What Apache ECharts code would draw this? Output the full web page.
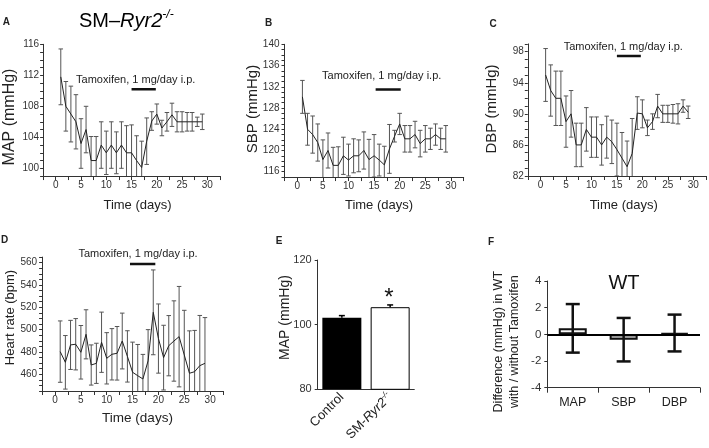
<!DOCTYPE html>
<html><head><meta charset="utf-8">
<script src="https://cdn.jsdelivr.net/npm/echarts@6/dist/echarts.min.js"></script>
<style>html,body{margin:0;padding:0;background:#fff}#c{width:709px;height:448px}</style>
</head><body><div id="c"></div>
<script>
// ---------- data ----------
const days = [1,2,3,4,5,6,7,8,9,10,11,12,13,14,15,16,17,18,19,20,21,22,23,24,25,26,27,28,29];
const mapMean = [111.8,108.0,107.0,106.0,103.2,105.0,101.0,101.0,103.0,102.0,103.0,102.0,103.0,102.0,102.0,101.0,100.1,103.5,106.1,107.0,105.2,106.0,106.9,106.0,106.0,106.0,106.0,106.0,106.0];
const mapErr  = [3.6,3.2,3.6,3.5,3.2,3.0,3.1,3.1,3.0,2.8,3.0,2.7,3.0,3.5,3.6,3.2,3.4,3.0,1.2,1.3,1.0,1.2,1.5,1.3,1.3,1.2,1.2,0.6,1.0];
const sbpMean = [130.1,124.0,123.0,121.5,118.3,120.0,117.2,117.2,119.0,118.2,119.0,119.0,120.0,118.3,119.0,118.2,117.3,120.3,122.7,125.0,122.2,122.2,123.0,121.3,122.2,122.2,123.0,122.2,122.2];
const sbpErr  = [3.1,3.0,3.5,3.5,3.7,3.3,3.4,3.5,3.5,3.0,3.2,3.0,3.5,3.8,4.0,3.0,3.5,4.6,1.1,2.0,2.5,2.5,2.5,2.5,2.5,2.0,2.0,2.0,2.5];
const dbpMean = [95.0,93.0,92.0,92.0,89.0,90.0,86.0,86.0,88.0,87.0,87.0,86.0,87.0,86.4,85.4,84.3,83.2,84.9,90.1,90.0,88.2,89.0,91.0,90.0,90.0,90.0,90.0,91.0,90.2];
const dbpErr  = [3.4,3.3,3.5,3.5,3.3,3.0,2.8,2.8,2.8,2.6,2.6,2.6,2.7,2.8,3.4,3.3,3.3,4.5,2.1,1.8,1.0,1.0,1.5,1.1,1.1,1.2,1.3,0.8,0.8];
const hrMean  = [480.3,470.7,486.3,486.9,479.7,495.8,468.3,469.8,488.7,474.3,477.9,478.8,489.8,476.0,461.8,458.7,455.8,472.0,515.5,492.0,474.9,485.6,489.8,493.7,477.3,460.9,462.3,467.7,469.8];
const hrErr   = [27.5,24,22,23,24,22,18,18,27,23,23,24,25,23,27,28,22,28,38,31,29,27,36,45,40,38,37,45,41];
// Tamoxifen bar [startDay, endDay, level] per panel
const tamA = [15, 19.8, 110.2];
const tamB = [15.3, 20.2, 131.5];
const tamC = [15, 19.7, 97.45];
const tamD = [14.5, 19.4, 558.8];
const tamText = 'Tamoxifen, 1 mg/day i.p.';
// panel E
const eCats = ['Control', 'SM-Ryr2-/-'];
const eMean = [102.1, 105.4];
const eErr  = [0.7, 0.7];
// panel F
const fCats = ['MAP', 'SBP', 'DBP'];
const fMean = [0.45, -0.4, 0.1];
const fErr  = [1.82, 1.63, 1.38];

// ---------- styling ----------
const FONT = '"Liberation Sans", Arial, Helvetica, sans-serif';
const AX = '#333';
const TXT = '#222';

function timeX(g){
  return {type:'value', gridIndex:g, min:-2.5, max:32.5, interval:2.5,
    axisLine:{show:true, onZero:false, lineStyle:{color:AX, width:1}},
    axisTick:{show:true, length:4, lineStyle:{color:AX}},
    splitLine:{show:false},
    axisLabel:{color:AX, fontSize:10, fontFamily:FONT, margin:4,
      formatter: v => (Math.abs(v % 5) < 1e-9 && v >= 0 && v <= 30) ? String(v) : ''}};
}
function valY(g, min, max, interval, lblFn, margin, fs){
  return {type:'value', gridIndex:g, min, max, interval,
    axisLine:{show:true, onZero:false, lineStyle:{color:AX, width:1}},
    axisTick:{show:true, length:3, lineStyle:{color:AX}},
    splitLine:{show:false},
    axisLabel:{color:AX, fontSize:fs||10, fontFamily:FONT, margin:margin||4, formatter: v => lblFn(v) ? String(v) : ''}};
}
function errRender(cap, color, lw, upOnly){
  return function(params, api){
    const x = api.value(0), y = api.value(1), e = api.value(2);
    const lo = api.coord([x, upOnly ? y : y - e]);
    const hi = api.coord([x, y + e]);
    const st = {stroke:color, lineWidth:lw};
    const ch = [
      {type:'line', shape:{x1:hi[0], y1:hi[1], x2:lo[0], y2:lo[1]}, style:st},
      {type:'line', shape:{x1:hi[0]-cap/2, y1:hi[1], x2:hi[0]+cap/2, y2:hi[1]}, style:st}
    ];
    if(!upOnly) ch.push({type:'line', shape:{x1:lo[0]-cap/2, y1:lo[1], x2:lo[0]+cap/2, y2:lo[1]}, style:st});
    return {type:'group', children:ch};
  };
}
function timeSeries(g, mean, err, tam){
  return [
    {type:'custom', xAxisIndex:g, yAxisIndex:g, clip:true, z:2,
      renderItem: errRender(4.5, '#555', 1, false),
      encode:{x:0, y:1},
      data: days.map((d,i)=>[d, mean[i], err[i]])},
    {type:'line', xAxisIndex:g, yAxisIndex:g, clip:true, z:3, symbol:'none', showSymbol:false,
      lineStyle:{color:'#222', width:1}, data: days.map((d,i)=>[d, mean[i]])},
    {type:'line', xAxisIndex:g, yAxisIndex:g, z:4, symbol:'none', showSymbol:false,
      lineStyle:{color:'#111', width:2.5}, data:[[tam[0], tam[2]], [tam[1], tam[2]]]}
  ];
}

const grids = [
  {left:43.1, top:44.3, width:176.9, height:131.75},
  {left:284.5, top:44.3, width:179.2, height:132.75},
  {left:527.8, top:43.9, width:180.25, height:132.1},
  {left:42.1, top:257.1, width:180.95, height:133.9},
  {left:317.7, top:260, width:96.6, height:129.3},
  {left:547.3, top:281, width:152.7, height:106.7}
];

const xAxes = [
  timeX(0), timeX(1), timeX(2), timeX(3),
  {type:'category', gridIndex:4, data:eCats,
    axisLine:{show:true, lineStyle:{color:AX}}, axisTick:{show:false},
    axisLabel:{rotate:45, margin:6, interval:0,
      formatter: v => v === 'Control' ? '{n|Control}' : '{n|SM-}{i|Ryr2}{s|-/-}',
      rich:{
        n:{fontSize:13, fontFamily:FONT, color:TXT, lineHeight:16},
        i:{fontSize:13, fontFamily:FONT, fontStyle:'italic', color:TXT, lineHeight:16},
        s:{fontSize:8, fontFamily:FONT, fontStyle:'italic', color:TXT, lineHeight:8, verticalAlign:'top'}
      }}},
  {type:'category', gridIndex:5, data:fCats,
    axisLine:{show:true, onZero:false, lineStyle:{color:AX, width:1}},
    axisTick:{show:true, length:5, alignWithLabel:false, lineStyle:{color:AX}},
    axisLabel:{color:TXT, fontSize:12.5, fontFamily:FONT, margin:8, interval:0}}
];
const yAxes = [
  valY(0, 99, 116, 1, v => (v - 100) % 4 === 0, 4),
  valY(1, 115, 140, 1, v => (v - 116) % 4 === 0, 5),
  valY(2, 82, 99, 1, v => (v - 82) % 4 === 0 && v <= 98, 4),
  valY(3, 445, 565, 5, v => (v - 460) % 20 === 0 && v >= 460 && v <= 560, 5),
  valY(4, 80, 120, 20, v => true, 6, 11),
  valY(5, -4, 4, 2, v => true, 6, 11.5)
];

const series = [
  ...timeSeries(0, mapMean, mapErr, tamA),
  ...timeSeries(1, sbpMean, sbpErr, tamB),
  ...timeSeries(2, dbpMean, dbpErr, tamC),
  ...timeSeries(3, hrMean, hrErr, tamD),
  {type:'bar', xAxisIndex:4, yAxisIndex:4, barWidth:39, z:2,
    data: eMean.map((v,i)=>({value:v, itemStyle: i===0 ? {color:'#000'} : {color:'#fff', borderColor:'#000', borderWidth:1}}))},
  {type:'custom', xAxisIndex:4, yAxisIndex:4, z:3, renderItem: errRender(6, '#000', 1.5, true),
    encode:{x:0, y:1}, data: eMean.map((v,i)=>[i, v, eErr[i]])},
  {type:'bar', xAxisIndex:5, yAxisIndex:5, barWidth:28, z:2,
    data: fMean.map((v,i)=>({value:v, itemStyle:{color: i===1 ? '#c4c4c4' : '#fafafa', borderColor:'#111', borderWidth:2}})),
    markLine:{silent:true, symbol:['none','none'], label:{show:false},
      lineStyle:{color:'#000', width:2, type:'solid'}, data:[{yAxis:0}]}},
  {type:'custom', xAxisIndex:5, yAxisIndex:5, z:4, renderItem: errRender(14, '#111', 2.5, false),
    encode:{x:0, y:1}, data: fMean.map((v,i)=>[i, v, fErr[i]])}
];

function txt(x, y, text, fs, opts){
  opts = opts || {};
  return {type:'text', x, y, rotation: opts.rot || 0, z:100,
    style:Object.assign({text, fontSize:fs, fontFamily:FONT, fill: opts.fill || TXT,
      fontWeight: opts.bold ? 'bold' : 'normal',
      align: opts.align || 'center', verticalAlign:'middle',
      textAlign: opts.align || 'center', textVerticalAlign:'middle'}, opts.extra || {})};
}
const R = Math.PI / 2;
const graphic = [
  // title
  {type:'text', x:79, y:21, z:100, style:{
    text:'{n|SM–}{i|Ryr2}{s|-/-}', align:'left', verticalAlign:'middle', textAlign:'left', textVerticalAlign:'middle',
    rich:{
      n:{fontSize:20, fontFamily:FONT, fill:'#000', lineHeight:24},
      i:{fontSize:20, fontFamily:FONT, fontStyle:'italic', fill:'#000', lineHeight:24},
      s:{fontSize:12, fontFamily:FONT, fontStyle:'italic', fill:'#000', lineHeight:12, verticalAlign:'top'}
    }}},
  // panel letters
  txt(6.3, 22.7, 'A', 10, {bold:true}),
  txt(268.7, 23.3, 'B', 10, {bold:true}),
  txt(493, 24, 'C', 10, {bold:true}),
  txt(4.5, 240, 'D', 10, {bold:true}),
  txt(279, 241.7, 'E', 10, {bold:true}),
  txt(491, 242.7, 'F', 10, {bold:true}),
  // tamoxifen labels
  txt(135.7, 80, tamText, 11),
  txt(381.7, 76, tamText, 11),
  txt(623.3, 47, tamText, 11),
  txt(138, 253.5, tamText, 11),
  // x-axis titles
  txt(137.5, 205, 'Time (days)', 13),
  txt(379, 205, 'Time (days)', 13),
  txt(623.7, 205, 'Time (days)', 13),
  txt(137.5, 418.5, 'Time (days)', 13.5),
  // y-axis titles
  txt(10, 117, 'MAP (mmHg)', 16, {rot:R}),
  txt(253, 109, 'SBP (mmHg)', 15, {rot:R}),
  txt(491.5, 109, 'DBP (mmHg)', 15, {rot:R}),
  txt(10.5, 317.5, 'Heart rate (bpm)', 13, {rot:R}),
  txt(285, 317.5, 'MAP (mmHg)', 14, {rot:R}),
  txt(507, 341.7, 'Difference (mmHg) in WT\nwith / without Tamoxifen', 12.5, {rot:R, extra:{lineHeight:16}}),
  // annotations
  txt(624, 283.3, 'WT', 20, {fill:'#111'}),
  txt(388.8, 298, '*', 24, {fill:'#111'})
];

const chart = echarts.init(document.getElementById('c'));
chart.setOption({
  animation:false,
  backgroundColor:'#fff',
  textStyle:{fontFamily:FONT},
  grid: grids,
  xAxis: xAxes,
  yAxis: yAxes,
  series,
  graphic
});
</script>
</body></html>
